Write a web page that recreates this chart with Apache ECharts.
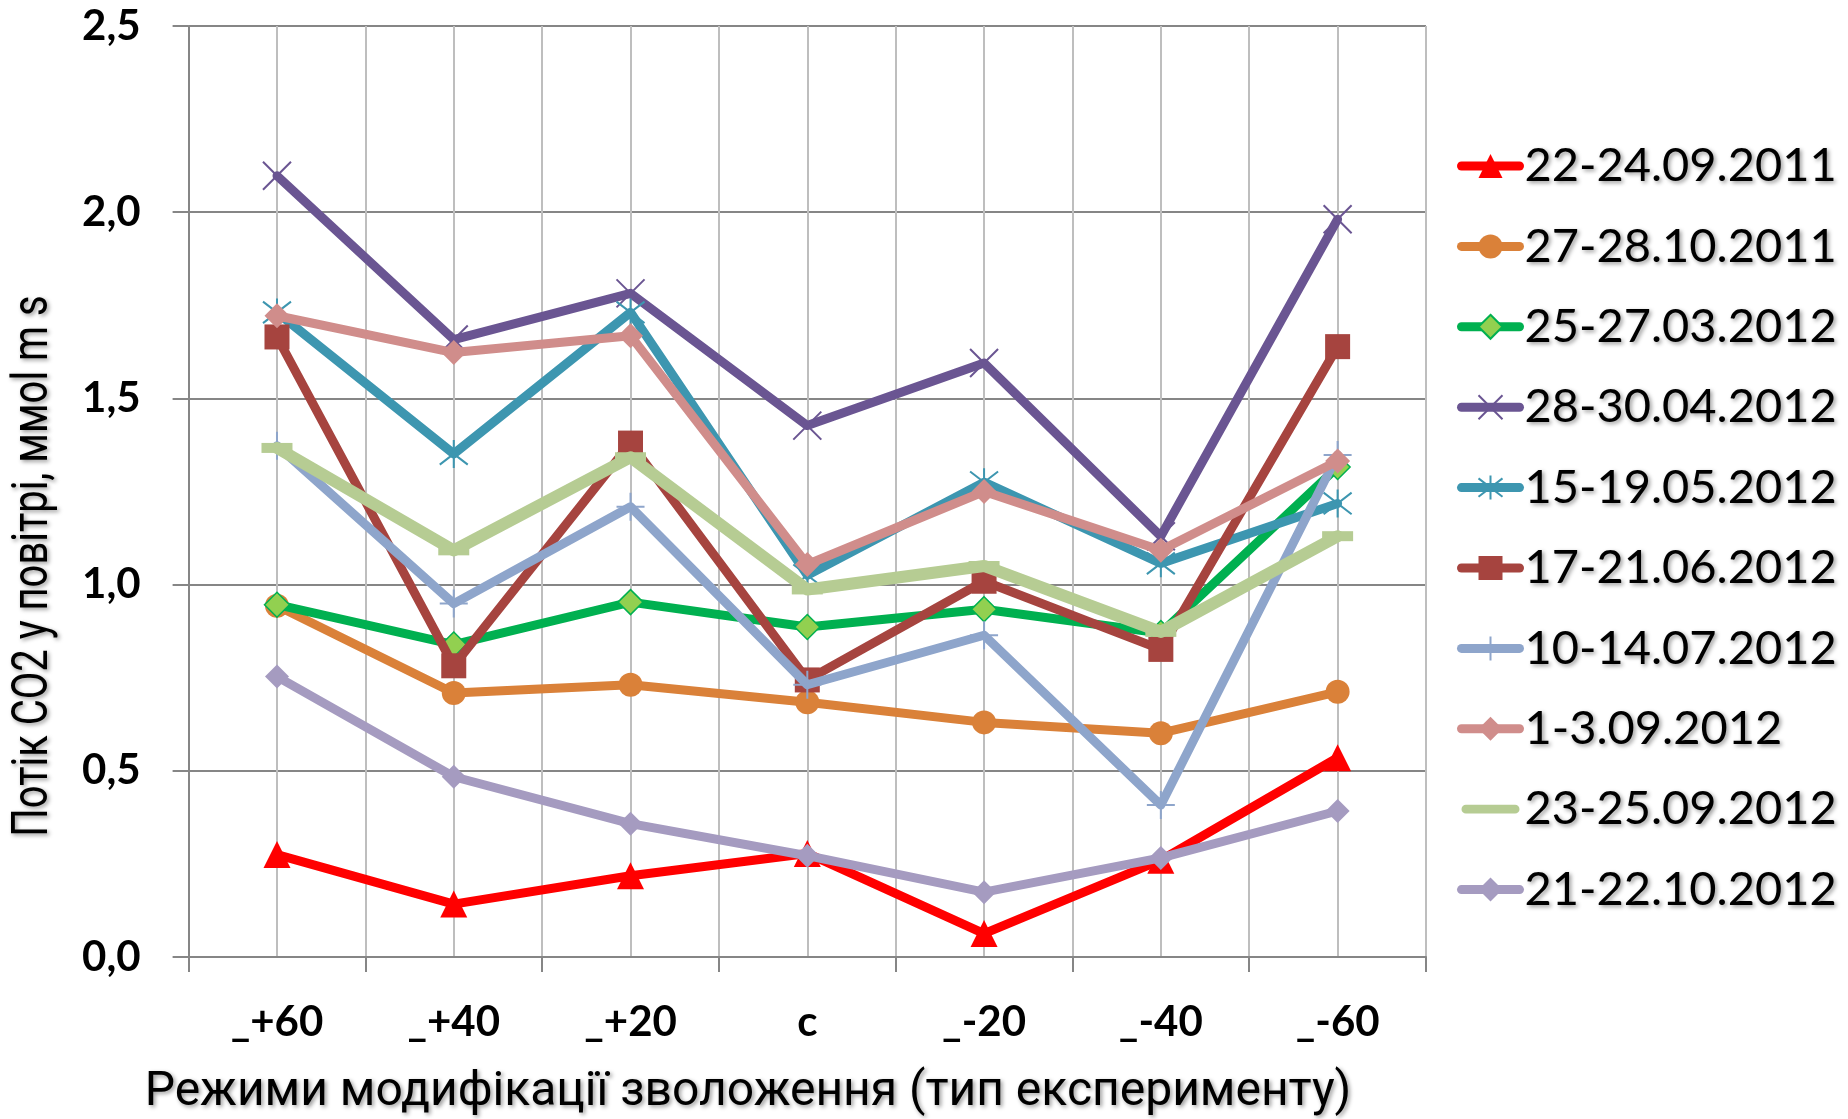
<!DOCTYPE html>
<html>
<head>
<meta charset="utf-8">
<script src="https://cdn.jsdelivr.net/npm/echarts@6/dist/echarts.min.js"></script>
<style>
html,body{margin:0;padding:0;background:#fff;}
#chart{width:1848px;height:1119px;}
</style>
</head>
<body>
<div id="chart"></div>
<script>
const categories = ['_+60', '_+40', '_+20', 'c', '_-20', '_-40', '_-60'];
const yTicks = [0, 0.5, 1.0, 1.5, 2.0, 2.5];
const seriesNames = ['22-24.09.2011', '27-28.10.2011', '25-27.03.2012', '28-30.04.2012', '15-19.05.2012',
  '17-21.06.2012', '10-14.07.2012', '1-3.09.2012', '23-25.09.2012', '21-22.10.2012'];
const s_22_24_09_2011 = [0.275, 0.142, 0.218, 0.278, 0.063, 0.260, 0.535];
const s_27_28_10_2011 = [0.943, 0.709, 0.731, 0.684, 0.630, 0.601, 0.712];
const s_25_27_03_2012 = [0.946, 0.839, 0.953, 0.886, 0.934, 0.870, 1.316];
const s_28_30_04_2012 = [2.098, 1.658, 1.782, 1.427, 1.595, 1.130, 1.981];
const s_15_19_05_2012 = [1.731, 1.351, 1.731, 1.025, 1.275, 1.057, 1.218];
const s_17_21_06_2012 = [1.665, 0.782, 1.380, 0.744, 1.009, 0.826, 1.639];
const s_10_14_07_2012 = [1.373, 0.949, 1.209, 0.731, 0.864, 0.408, 1.348];
const s_1_3_09_2012   = [1.722, 1.623, 1.668, 1.054, 1.250, 1.092, 1.332];
const s_23_25_09_2012 = [1.367, 1.092, 1.342, 0.987, 1.050, 0.873, 1.130];
const s_21_22_10_2012 = [0.753, 0.484, 0.358, 0.272, 0.174, 0.266, 0.392];
const seriesValues = [s_22_24_09_2011, s_27_28_10_2011, s_25_27_03_2012, s_28_30_04_2012, s_15_19_05_2012,
  s_17_21_06_2012, s_10_14_07_2012, s_1_3_09_2012, s_23_25_09_2012, s_21_22_10_2012];

const xTitle = 'Режими модифікації зволоження (тип експерименту)';
const yTitle = 'Потік CO2 у повітрі, ммоl m s';

const styles = [
  {color:'#FF0000', symbol:'triangle', size:27, fill:'#FF0000', border:'#FF0000', bw:0, lw:9},
  {color:'#DA8139', symbol:'circle', size:24, fill:'#DA8139', border:'#DA8139', bw:0, lw:9},
  {color:'#00B050', symbol:'diamond', size:25, fill:'#92D050', border:'#00B050', bw:1.5, lw:9},
  {color:'#6A5592', symbol:'path://M0,0L10,10M10,0L0,10', size:28, fill:'#6A5592', border:'#6A5592', bw:2, lw:9},
  {color:'#3D96B0', symbol:'path://M0,0L10,10M10,0L0,10M5,-1.5L5,11.5', size:28, fill:'#3D96B0', border:'#3D96B0', bw:2, lw:9},
  {color:'#A6443F', symbol:'rect', size:25, fill:'#A6443F', border:'#A6443F', bw:0, lw:9},
  {color:'#8EA5CB', symbol:'path://M5,0L5,10M0,5L10,5', size:28, fill:'#8EA5CB', border:'#8EA5CB', bw:2, lw:9},
  {color:'#D08D8B', symbol:'diamond', size:25, fill:'#D08D8B', border:'#D08D8B', bw:0, lw:9},
  {color:'#B6CC93', symbol:'rect', size:[31,10], fill:'#B6CC93', border:'#B6CC93', bw:0, lw:12},
  {color:'#A59BC0', symbol:'diamond', size:24, fill:'#A59BC0', border:'#A59BC0', bw:0, lw:9}
];

const series = seriesNames.map((name, i) => {
  const st = styles[i];
  return {
    name: name,
    type: 'line',
    xAxisIndex: 0,
    yAxisIndex: 0,
    data: seriesValues[i],
    symbol: st.symbol,
    symbolSize: st.size,
    showAllSymbol: true,
    lineStyle: {color: st.color, width: st.lw, join: 'round', cap: 'round'},
    itemStyle: {color: st.fill, borderColor: st.border, borderWidth: st.bw},
    emphasis: {disabled: true},
    animation: false,
    z: 3 + i
  };
});

const legendData = seriesNames.map((name, i) => {
  if (i === 8) {
    return {name: name, icon: 'path://M0,0h0.01v0.01h-0.01zM4,10.5h50a4.5,4.5 0 0 1 0,9h-50a4.5,4.5 0 0 1 0,-9zM0,29.99h0.01v0.01h-0.01z'};
  }
  return {name: name};
});

const chart = echarts.init(document.getElementById('chart'), null, {renderer: 'canvas'});
const option = {
  backgroundColor: '#ffffff',
  animation: false,
  grid: {left: 188.6, right: 422, top: 26, bottom: 162, containLabel: false},
  xAxis: [
    {
      type: 'category',
      data: categories,
      boundaryGap: true,
      axisLine: {show: true, lineStyle: {color: '#868686', width: 2}},
      axisTick: {show: true, length: 15, lineStyle: {color: '#868686', width: 2}},
      axisLabel: {show: true, margin: 44, fontFamily: 'Lato, Roboto, sans-serif', fontWeight: 'bold', fontSize: 42, color: '#000'},
      splitLine: {show: false}
    },
    {
      type: 'value',
      position: 'top',
      min: 0, max: 14, interval: 1,
      axisLine: {show: false}, axisTick: {show: false}, axisLabel: {show: false},
      splitLine: {show: true, lineStyle: {color: '#BEBEBE', width: 2}}
    }
  ],
  yAxis: {
    type: 'value',
    min: yTicks[0],
    max: yTicks[yTicks.length - 1],
    interval: 0.5,
    axisLine: {show: true, lineStyle: {color: '#868686', width: 2}},
    axisTick: {show: true, length: 16, lineStyle: {color: '#868686', width: 2}},
    axisLabel: {margin: 48, fontFamily: 'Lato, Roboto, sans-serif', fontWeight: 'bold', fontSize: 42, color: '#000',
      formatter: v => v.toFixed(1).replace('.', ',')},
    splitLine: {show: true, lineStyle: {color: '#868686', width: 2}}
  },
  legend: {
    orient: 'vertical',
    left: 1452,
    top: 136,
    itemWidth: 58,
    itemHeight: 30,
    itemGap: 30.4,
    data: legendData,
    selectedMode: false,
    lineStyle: {width: 9, cap: 'round'},
    textStyle: {fontFamily: 'Lato, Roboto, sans-serif', fontSize: 47, lineHeight: 50, color: '#000',
      textShadowColor: 'rgba(0,0,0,0.4)', textShadowBlur: 4, textShadowOffsetX: 2, textShadowOffsetY: 2}
  },
  graphic: [
    {
      type: 'text', x: 748, y: 1093, z: 10,
      style: {text: xTitle, font: '48px Roboto, sans-serif', fill: '#000', textAlign: 'center', textVerticalAlign: 'middle',
        textShadowColor: 'rgba(0,0,0,0.4)', textShadowBlur: 4, textShadowOffsetX: 2, textShadowOffsetY: 2}
    },
    {
      type: 'text', x: 34, y: 566, rotation: Math.PI / 2, scaleX: 0.8, z: 10,
      style: {text: yTitle, font: '50px Roboto, sans-serif', fill: '#000', textAlign: 'center', textVerticalAlign: 'middle',
        textShadowColor: 'rgba(0,0,0,0.4)', textShadowBlur: 4, textShadowOffsetX: 2, textShadowOffsetY: 2}
    }
  ],
  series: series
};
chart.setOption(option);
</script>
</body>
</html>
